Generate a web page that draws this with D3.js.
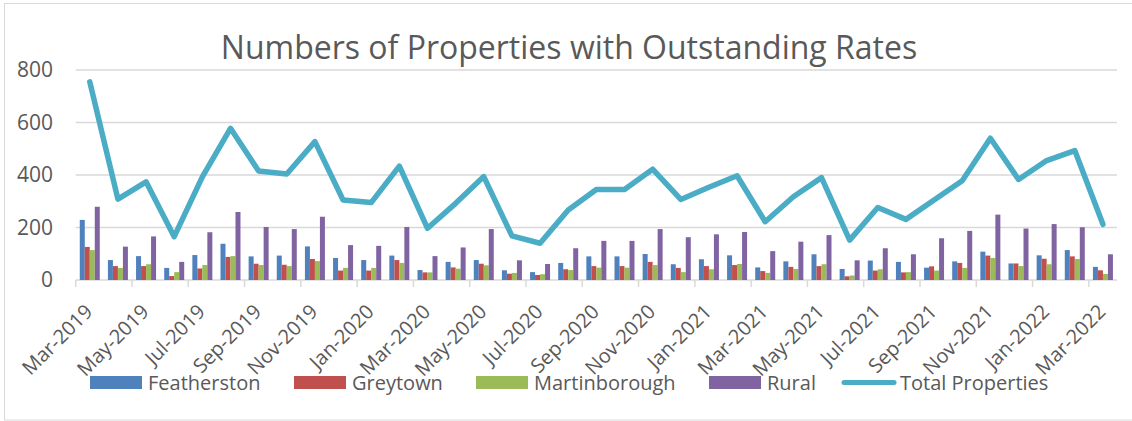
<!DOCTYPE html>
<html>
<head>
<meta charset="utf-8">
<script src="https://cdnjs.cloudflare.com/ajax/libs/d3/7.8.5/d3.min.js"></script>
<style>
  html, body { margin: 0; padding: 0; background: #fff; }
  svg text { font-family: "Open Sans", sans-serif; fill: #595959; }
</style>
</head>
<body>
<div id="chart_div"></div>
<script>
var months = ['Mar-2019','Apr-2019','May-2019','Jun-2019','Jul-2019','Aug-2019','Sep-2019','Oct-2019','Nov-2019','Dec-2019',
              'Jan-2020','Feb-2020','Mar-2020','Apr-2020','May-2020','Jun-2020','Jul-2020','Aug-2020','Sep-2020','Oct-2020',
              'Nov-2020','Dec-2020','Jan-2021','Feb-2021','Mar-2021','Apr-2021','May-2021','Jun-2021','Jul-2021','Aug-2021',
              'Sep-2021','Oct-2021','Nov-2021','Dec-2021','Jan-2022','Feb-2022','Mar-2022'];

var featherston   = [229,76,91,46,95,138,90,93,128,84, 76,93,38,69,76,37,30,65,90,90, 99,60,79,94,48,71,98,42,74,69, 47,71,108,63,94,114,50];
var greytown      = [126,53,53,15,44,88,62,58,80,36, 36,76,29,48,62,24,19,41,53,53, 69,46,53,57,34,50,53,14,36,29, 52,65,93,63,81,90,37];
var martinborough = [114,46,60,30,57,91,57,53,72,46, 46,65,29,43,56,27,22,38,47,47, 57,30,41,61,27,42,60,17,41,30, 36,46,84,53,60,80,23];
var rural         = [279,127,166,69,182,259,202,194,241,133, 130,202,91,124,194,75,61,121,149,149, 194,163,174,183,110,146,171,75,121,98, 159,187,249,196,213,201,98];
var totalProps    = [755,308,374,165,393,578,415,404,527,305, 295,434,197,292,394,168,140,267,345,345, 422,307,353,397,222,317,390,152,276,231, 305,378,540,383,455,493,212];

var seriesNames = ['Featherston','Greytown','Martinborough','Rural'];
var yTicks = [0, 200, 400, 600, 800];

var colors = {'Featherston':'#4F81BD','Greytown':'#C0504D','Martinborough':'#9BBB59','Rural':'#8064A2','Total Properties':'#4BACC6'};

var width = 1132, height = 421;
var plotLeft = 75.7, plotRight = 1117, plotTop = 70, plotBottom = 280;

var svg = d3.select("#chart_div")
        .append("svg")
        .attr("width", width)
        .attr("height", height);

// outer chart border
svg.append('rect')
        .attr('x', 4.5).attr('y', 3.5)
        .attr('width', width + 10).attr('height', 416.5)
        .style('fill', 'none')
        .style('stroke', '#D9D9D9')
        .style('stroke-width', 1);

var x = d3.scaleBand().domain(months).range([plotLeft, plotRight]).paddingInner(0).paddingOuter(0);
var y = d3.scaleLinear().domain([0, 800]).range([plotBottom, plotTop]);
var groupWidth = 20;
var xInner = d3.scaleBand().domain(seriesNames).range([0, groupWidth]);

// gridlines
svg.selectAll('.grid')
        .data(yTicks)
        .enter()
        .append('line')
        .attr('class', 'grid')
        .attr('x1', plotLeft).attr('x2', plotRight)
        .attr('y1', function(d) { return y(d); })
        .attr('y2', function(d) { return y(d); })
        .style('stroke', '#D9D9D9')
        .style('stroke-width', 1.5);

// y labels
svg.selectAll('.ylab')
        .data(yTicks)
        .enter()
        .append('text')
        .attr('class', 'ylab')
        .attr('x', 53)
        .attr('y', function(d) { return y(d); })
        .attr('dy', '0.35em')
        .attr('text-anchor', 'end')
        .style('font-size', '21px')
        .text(function(d) { return d; });

// x ticks every 2 categories
var tickMonths = months.filter(function(d, i) { return i % 2 == 0; });
svg.selectAll('.xtick')
        .data(tickMonths)
        .enter()
        .append('line')
        .attr('class', 'xtick')
        .attr('x1', function(d) { return x(d); })
        .attr('x2', function(d) { return x(d); })
        .attr('y1', plotBottom).attr('y2', plotBottom + 7)
        .style('stroke', '#D9D9D9')
        .style('stroke-width', 1.5);

svg.selectAll('.xlab')
        .data(tickMonths)
        .enter()
        .append('text')
        .attr('class', 'xlab')
        .attr('text-anchor', 'end')
        .style('font-size', '20px')
        .attr('transform', function(d) {
                return 'translate(' + (x(d) + x.bandwidth() / 2 + 4) + ',' + 313 + ') rotate(-45)'; })
        .text(function(d) { return d; });

// bars
var seriesData = [featherston, greytown, martinborough, rural];
var barGroups = svg.selectAll('.series')
        .data(seriesNames)
        .enter()
        .append('g')
        .attr('class', 'series')
        .style('fill', function(d) { return colors[d]; });

barGroups.selectAll('rect')
        .data(function(name, si) {
                return seriesData[si].map(function(v, i) { return {name: name, month: months[i], value: v}; }); })
        .enter()
        .append('rect')
        .attr('x', function(d) { return x(d.month) + (x.bandwidth() - groupWidth) / 2 + xInner(d.name); })
        .attr('width', xInner.bandwidth())
        .attr('y', function(d) { return y(d.value); })
        .attr('height', function(d) { return y(0) - y(d.value); });

// total line
var line = d3.line()
        .x(function(d, i) { return x(months[i]) + x.bandwidth() / 2; })
        .y(function(d) { return y(d); });

svg.append('path')
        .datum(totalProps)
        .attr('d', line)
        .style('fill', 'none')
        .style('stroke', colors['Total Properties'])
        .style('stroke-width', 5.5)
        .style('stroke-linejoin', 'round')
        .style('stroke-linecap', 'round');

// title
svg.append('text')
        .attr('x', 569)
        .attr('y', 59)
        .attr('text-anchor', 'middle')
        .style('font-size', '32px')
        .text('Numbers of Properties with Outstanding Rates');

// legend
var legendNames = seriesNames.concat(['Total Properties']);
var legendX = [90, 294, 476, 709, 841];
var legend = svg.selectAll('.legend')
        .data(legendNames)
        .enter()
        .append('g')
        .attr('class', 'legend')
        .attr('transform', function(d, i) { return 'translate(' + legendX[i] + ',376)'; });

legend.filter(function(d) { return d != 'Total Properties'; })
        .append('rect')
        .attr('width', 52)
        .attr('height', 13)
        .style('fill', function(d) { return colors[d]; });

legend.filter(function(d) { return d == 'Total Properties'; })
        .append('line')
        .attr('x1', 3).attr('x2', 53)
        .attr('y1', 6.5).attr('y2', 6.5)
        .style('stroke', function(d) { return colors[d]; })
        .style('stroke-width', 5)
        .style('stroke-linecap', 'round');

legend.append('text')
        .attr('x', function(d) { return d == 'Total Properties' ? 59 : 58; })
        .attr('y', 13.5)
        .style('font-size', '20px')
        .text(function(d) { return d; });
</script>
</body>
</html>
